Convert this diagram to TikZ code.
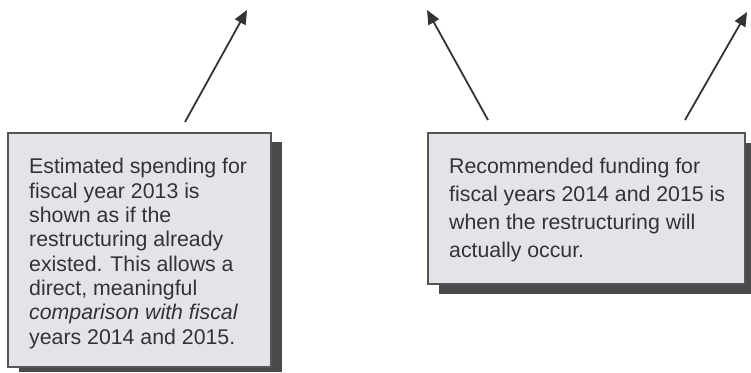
\documentclass[tikz,border=0pt]{standalone}
\usepackage{fontspec}
\setmainfont{Liberation Sans}
\usetikzlibrary{arrows.meta}
\definecolor{boxfill}{HTML}{E3E4E9}
\definecolor{boxline}{HTML}{555555}
\definecolor{shadowc}{HTML}{4A4A4C}
\definecolor{inkc}{HTML}{333333}
\tikzset{
  notebox/.style={draw=boxline, line width=1.2pt, fill=boxfill},
  shadowbox/.style={fill=shadowc, draw=none},
  notetext/.style={anchor=base west, inner sep=0pt, align=left, text=inkc,
    font=\fontsize{21.3}{24.3}\selectfont},
  pointer/.style={draw=inkc, line width=1.8pt,
    -{Triangle[length=14pt,width=12pt]}}
}
\begin{document}
\begin{tikzpicture}[x=1pt,y=1pt]
\useasboundingbox (0,0) rectangle (751,372);
% left box
\fill[shadowbox] (19,0) rectangle (282,230);
\draw[notebox] (8,5) rectangle (271,239);
\node (boxA) at (139.5,122) [minimum width=263pt, minimum height=234pt, inner sep=0pt] {};
\node[notetext, font=\fontsize{21.3}{24.3}\selectfont] (textA) at (29,28) {Estimated spending for\\fiscal year 2013 is\\shown as if the\\restructuring already\\existed. This allows a\\direct, meaningful\\\textit{comparison with fiscal}\\years 2014 and 2015.};
% right box
\fill[shadowbox] (439,78) rectangle (751,229);
\draw[notebox] (428,88) rectangle (745,239);
\node (boxB) at (586.5,163.5) [minimum width=317pt, minimum height=151pt, inner sep=0pt] {};
\node[notetext, font=\fontsize{21.3}{28}\selectfont] (textB) at (449,114) {Recommended funding for\\fiscal years 2014 and 2015 is\\when the restructuring will\\actually occur.};
% arrows
\coordinate (a1) at (185,250);
\coordinate (t1) at (247,362);
\coordinate (a2) at (488,252);
\coordinate (t2) at (427,362);
\coordinate (a3) at (685,252);
\coordinate (t3) at (747,360);
\draw[pointer] (a1) -- (t1);
\draw[pointer] (a2) -- (t2);
\draw[pointer] (a3) -- (t3);
\end{tikzpicture}
\end{document}
